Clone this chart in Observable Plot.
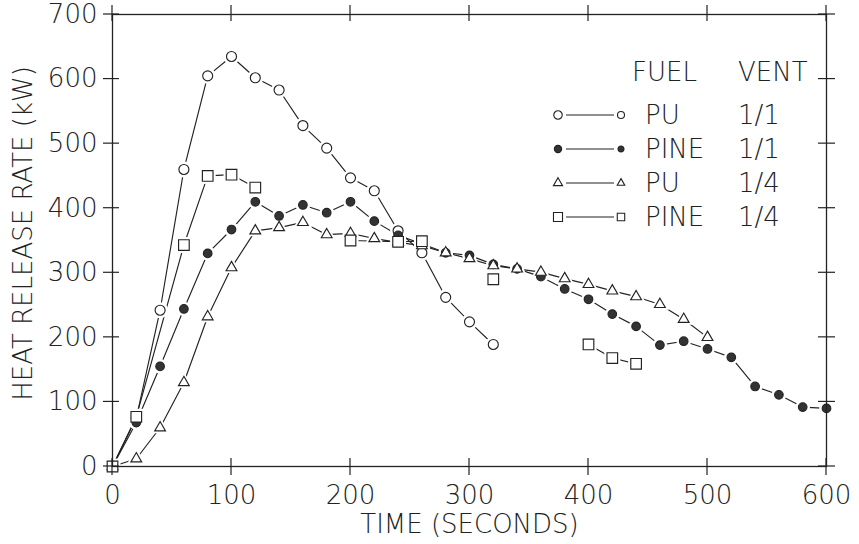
<!DOCTYPE html>
<html>
<head>
<meta charset="utf-8">
<script src="https://cdn.jsdelivr.net/npm/d3@7"></script>
<script src="https://cdn.jsdelivr.net/npm/@observablehq/plot@0.6"></script>
<style>
  html, body { margin: 0; padding: 0; background: #fff; }
  #chart { position: relative; width: 859px; height: 544px; }
  #chart svg text { fill: #222; }
</style>
</head>
<body>
<div id="chart"></div>
<script>
// ---- axis ticks ----
const xTicks = [0, 100, 200, 300, 400, 500, 600];
const yTicks = [0, 100, 200, 300, 400, 500, 600, 700];

// ---- series: PU, vent 1/1 (open circles) ----
const puVent11Time = [0, 20, 40, 60, 80, 100, 120, 140, 160, 180, 200, 220, 240, 260, 280, 300, 320];
const puVent11Hrr  = [0, 75, 242, 460, 605, 635, 602, 583, 528, 493, 447, 427, 365, 331, 262, 224, 189];

// ---- series: PINE, vent 1/1 (filled circles) ----
const pineVent11Time = [0, 20, 40, 60, 80, 100, 120, 140, 160, 180, 200, 220, 240, 260, 280, 300,
                        320, 340, 360, 380, 400, 420, 440, 460, 480, 500, 520, 540, 560, 580, 600];
const pineVent11Hrr  = [0, 68, 155, 244, 330, 367, 410, 388, 405, 393, 410, 380, 358, 345, 331, 327,
                        313, 306, 294, 275, 259, 236, 217, 188, 194, 182, 169, 124, 111, 92, 90];

// ---- series: PU, vent 1/4 (triangles) ----
const puVent14Time = [0, 20, 40, 60, 80, 100, 120, 140, 160, 180, 200, 220, 240, 260, 280, 300,
                      320, 340, 360, 380, 400, 420, 440, 460, 480, 500];
const puVent14Hrr  = [0, 12, 60, 130, 232, 308, 365, 370, 378, 359, 361, 353, 347, 342, 331, 322,
                      311, 306, 301, 291, 282, 272, 263, 251, 228, 200];

// ---- series: PINE, vent 1/4 (squares); null = no reading (line breaks) ----
const pineVent14Time = [0, 20, 60, 80, 100, 120, 140, 200, 240, 260, 280, 320, 340, 400, 420, 440];
const pineVent14Hrr  = [0, 77, 343, 450, 452, 432, null, 350, 348, 349, null, 290, null, 189, 168, 159];

// ---- legend content ----
const legendHeader = ["FUEL", "VENT"];
const legendFuel = ["PU", "PINE", "PU", "PINE"];
const legendVent = ["1/1", "1/1", "1/4", "1/4"];

const ink = "#222";
const series = [
  {time: puVent11Time,   hrr: puVent11Hrr,   symbol: "circle",   r: 5,   fill: "white"},
  {time: pineVent11Time, hrr: pineVent11Hrr, symbol: "circle",   r: 4.3, fill: "#333"},
  {time: puVent14Time,   hrr: puVent14Hrr,   symbol: "triangle", r: 4,   fill: "white"},
  {time: pineVent14Time, hrr: pineVent14Hrr, symbol: "square",   r: 6,   fill: "white"}
].map(s => ({...s, rows: s.time.map((t, i) => ({t, v: s.hrr[i]}))}));

const xMax = 600, yMax = 700;

const marks = [];
// lines
for (const s of series) marks.push(Plot.line(s.rows, {x: "t", y: "v", stroke: ink, strokeWidth: 1.15}));
// white halos to open gaps in lines near markers
for (const s of series) marks.push(Plot.dot(s.rows, {x: "t", y: "v", symbol: s.symbol, r: s.r + 3, fill: "white", stroke: null}));
// markers
for (const s of series) marks.push(Plot.dot(s.rows, {x: "t", y: "v", symbol: s.symbol, r: s.r, fill: s.fill, stroke: ink, strokeWidth: 1.15}));

marks.push(
  Plot.frame({stroke: ink, strokeWidth: 1.3}),
  // tick labels
  Plot.axisX(xTicks, {anchor: "bottom", tickSize: 0, tickPadding: 19, label: null}),
  Plot.axisY(yTicks, {anchor: "left", tickSize: 0, tickPadding: 15, label: null}),
  // axis titles
  Plot.text(["TIME (SECONDS)"], {frameAnchor: "bottom", dy: 58, textAnchor: "middle", lineAnchor: "middle", fontSize: 26, letterSpacing: 2.1}),
  Plot.text(["HEAT RELEASE RATE (kW)"], {frameAnchor: "left", rotate: -90, dx: -89, dy: -7, textAnchor: "middle", lineAnchor: "middle", fontSize: 26, letterSpacing: 3.4})
);

const plot = Plot.plot({
  width: 859,
  height: 544,
  marginLeft: 112,
  marginRight: 33,
  marginTop: 14,
  marginBottom: 78,
  style: {fontFamily: "'DejaVu Sans', sans-serif", fontSize: "26px", fontWeight: 200, color: ink, background: "#fff"},
  x: {domain: [0, xMax], label: null},
  y: {domain: [0, yMax], label: null},
  marks
});
document.getElementById("chart").appendChild(plot);

const svg = d3.select(plot.tagName.toLowerCase() === "svg" ? plot : plot.querySelector("svg"));

// ---- crossing tick marks on all four sides, positioned through Plot's own scales ----
const sx = plot.scale("x"), sy = plot.scale("y");
const x0 = sx.apply(0), x1 = sx.apply(xMax), y0 = sy.apply(0), y1 = sy.apply(yMax);
const tg = svg.append("g").attr("stroke", ink).attr("stroke-width", 1.2);
for (const t of xTicks) {
  const px = sx.apply(t);
  tg.append("line").attr("x1", px).attr("x2", px).attr("y1", y0 - 8).attr("y2", y0 + 9);
  tg.append("line").attr("x1", px).attr("x2", px).attr("y1", y1 - 9).attr("y2", y1 + 7);
}
for (const v of yTicks) {
  const py = sy.apply(v);
  tg.append("line").attr("y1", py).attr("y2", py).attr("x1", x0 - 9).attr("x2", x0 + 7);
  tg.append("line").attr("y1", py).attr("y2", py).attr("x1", x1 - 8).attr("x2", x1 + 9);
}

// ---- in-plot legend ----
const lg = svg.append("g")
  .attr("font-family", "'DejaVu Sans', sans-serif").attr("font-size", 26).attr("font-weight", 200)
  .attr("text-anchor", "start").attr("fill", ink);
lg.append("text").attr("x", 632).attr("y", 72).attr("dy", "0.36em").text(legendHeader[0]);
lg.append("text").attr("x", 738).attr("y", 72).attr("dy", "0.36em").text(legendHeader[1]);
const symMap = {circle: d3.symbolCircle, triangle: d3.symbolTriangle, square: d3.symbolSquare};
series.forEach((s, i) => {
  const y = 115 + i * 34;
  lg.append("line").attr("x1", 566).attr("x2", 614).attr("y1", y).attr("y2", y).attr("stroke", ink).attr("stroke-width", 1.1);
  const rBig = s.r * 0.85, rSmall = s.r * 0.7;
  lg.append("path").attr("transform", `translate(558,${y})`)
    .attr("d", d3.symbol(symMap[s.symbol], Math.PI * rBig * rBig)())
    .attr("fill", s.fill).attr("stroke", ink).attr("stroke-width", 1.1);
  lg.append("path").attr("transform", `translate(621,${y})`)
    .attr("d", d3.symbol(symMap[s.symbol], Math.PI * rSmall * rSmall)())
    .attr("fill", s.fill).attr("stroke", ink).attr("stroke-width", 1.1);
  lg.append("text").attr("x", 645).attr("y", y).attr("dy", "0.36em").text(legendFuel[i]);
  lg.append("text").attr("x", 738).attr("y", y).attr("dy", "0.36em").text(legendVent[i]);
});
</script>
</body>
</html>
